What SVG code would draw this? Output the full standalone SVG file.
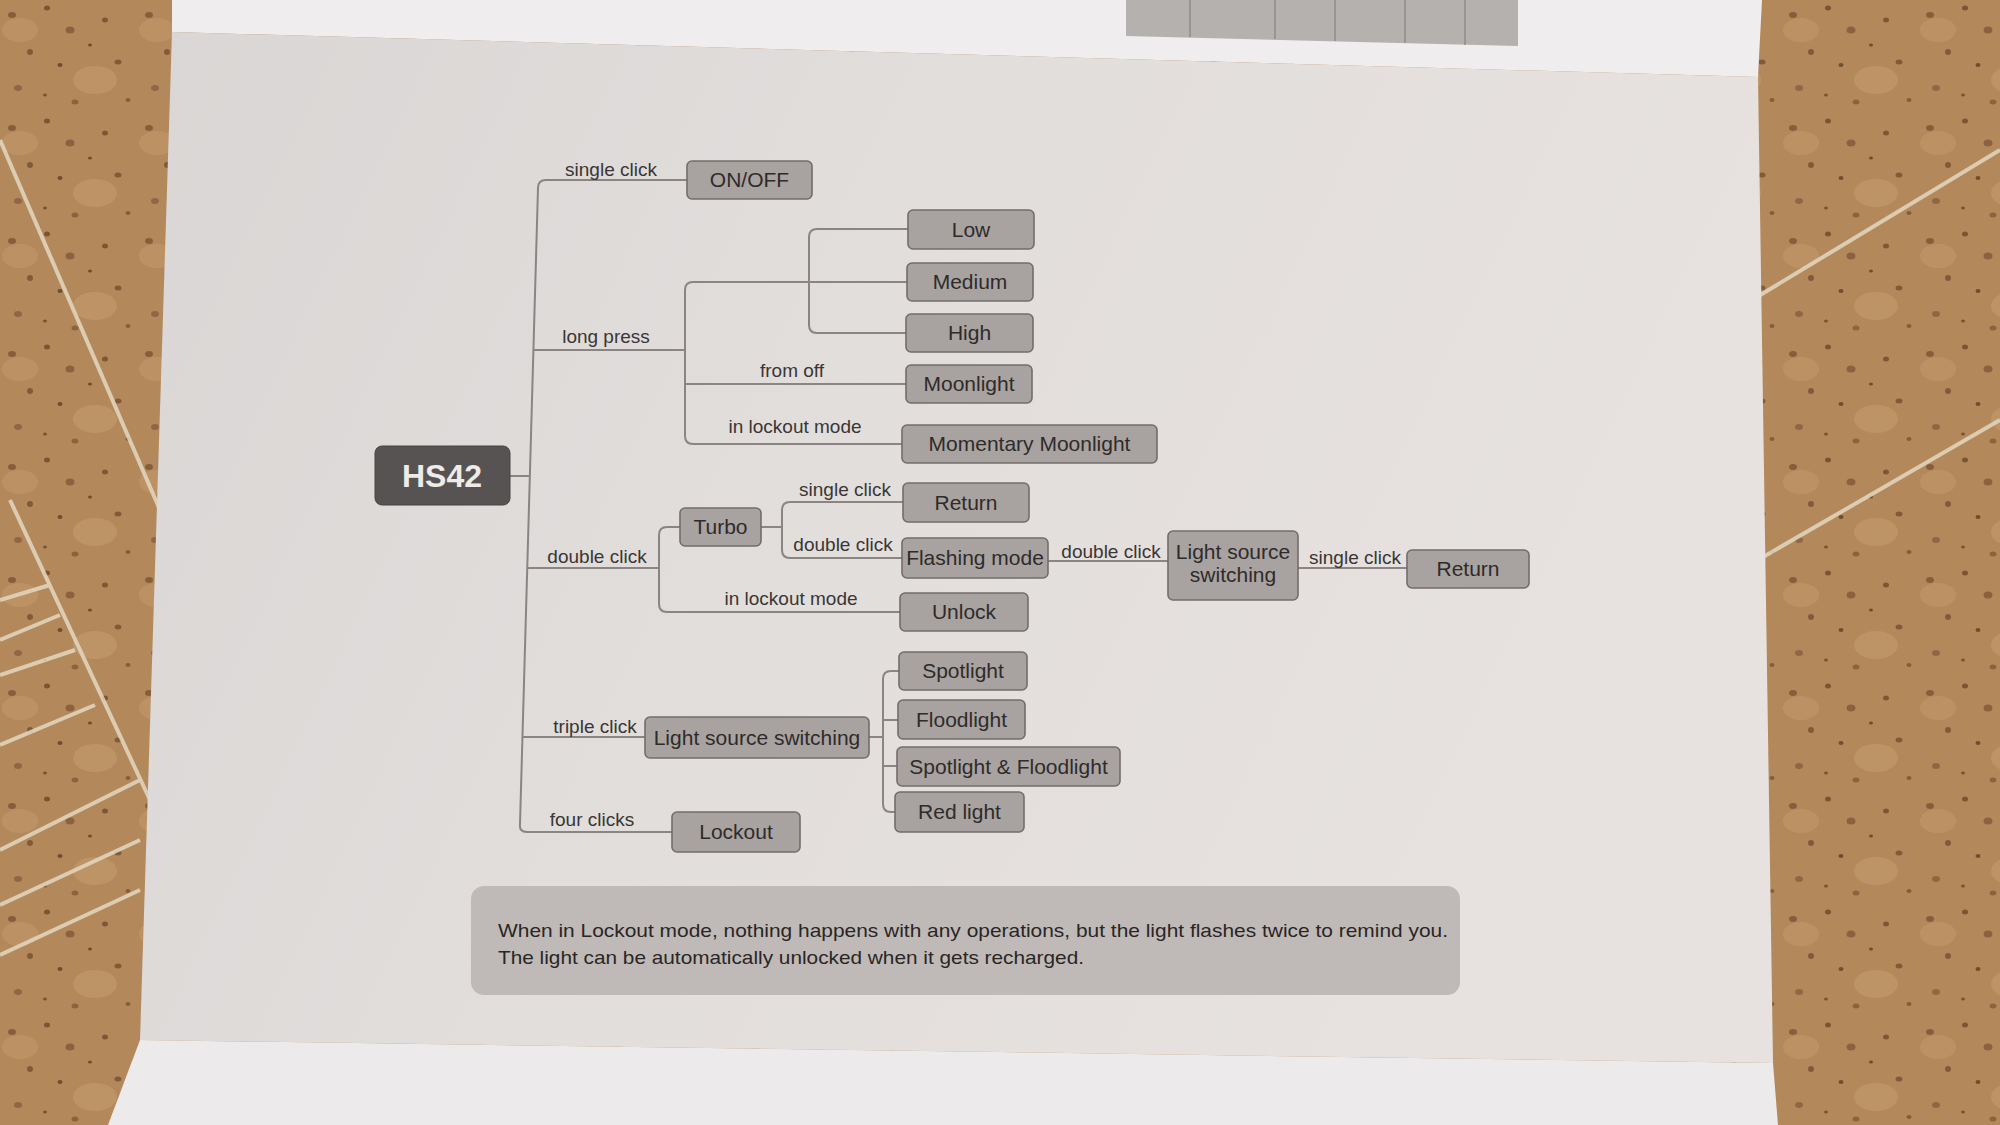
<svg xmlns="http://www.w3.org/2000/svg" width="2000" height="1125" viewBox="0 0 2000 1125">
<defs>
<pattern id="spots" width="137" height="113" patternUnits="userSpaceOnUse">
<rect width="137" height="113" fill="#b3885b"/>
<ellipse cx="20" cy="30" rx="18" ry="12" fill="#c29a6c" opacity="0.6"/>
<ellipse cx="95" cy="80" rx="22" ry="14" fill="#c6a070" opacity="0.5"/>
<ellipse cx="12" cy="15" rx="4" ry="3" fill="#7a5433" opacity="0.8"/>
<ellipse cx="47" cy="8" rx="3" ry="2.5" fill="#6b4729" opacity="0.8"/>
<ellipse cx="70" cy="30" rx="4.5" ry="3.5" fill="#80593a" opacity="0.8"/>
<ellipse cx="30" cy="52" rx="3" ry="3" fill="#6b4729" opacity="0.7"/>
<ellipse cx="118" cy="62" rx="3.5" ry="2.5" fill="#74502f" opacity="0.8"/>
<ellipse cx="18" cy="88" rx="4" ry="3" fill="#80593a" opacity="0.7"/>
<ellipse cx="60" cy="65" rx="2.5" ry="2" fill="#5e3e24" opacity="0.8"/>
<ellipse cx="105" cy="20" rx="3" ry="2.5" fill="#6f4b2c" opacity="0.8"/>
<ellipse cx="128" cy="100" rx="2.5" ry="2" fill="#6f4b2c" opacity="0.7"/>
<ellipse cx="75" cy="102" rx="3.5" ry="2.5" fill="#7a5433" opacity="0.7"/>
<ellipse cx="90" cy="45" rx="2" ry="1.6" fill="#5e3e24" opacity="0.8"/>
<ellipse cx="45" cy="95" rx="2" ry="1.6" fill="#5e3e24" opacity="0.7"/>
</pattern>
<linearGradient id="page" x1="0" y1="0" x2="1" y2="0.3">
<stop offset="0" stop-color="#d9d6d5"/>
<stop offset="0.5" stop-color="#e2dedc"/>
<stop offset="1" stop-color="#e7e2df"/>
</linearGradient>
<style>
.node rect{fill:#a8a3a0;stroke:#726d6b;stroke-width:1.6}
.node text{font-family:"Liberation Sans",Arial,sans-serif;font-size:21px;fill:#2f2b2a;text-anchor:middle}
.conn{fill:none;stroke:#8a8582;stroke-width:2}
.elabel{font-family:"Liberation Sans",Arial,sans-serif;font-size:19px;fill:#3a3634;text-anchor:middle}
</style>
</defs>

<!-- background scene -->
<rect width="2000" height="1125" fill="url(#spots)"/>
<g stroke="#e3d8c2" stroke-width="4" fill="none" opacity="0.85">
<path d="M0 140 L160 510"/>
<path d="M10 500 L150 800"/>
<path d="M0 600 L50 585"/>
<path d="M0 640 L60 615"/>
<path d="M0 675 L75 650"/>
<path d="M0 745 L95 705"/>
<path d="M0 850 L140 780"/>
<path d="M0 905 L140 840"/>
<path d="M0 955 L140 890"/>
<path d="M1752 300 L2000 150"/>
<path d="M1758 560 L2000 420"/>
</g>
<polygon points="172,0 1762,0 1758,77 172,32" fill="#efeded"/>
<polygon points="1126,0 1518,0 1518,46 1126,36" fill="#b4b1af"/>
<g stroke="#8f8c8a" stroke-width="1.5">
<line x1="1190" y1="0" x2="1190" y2="37"/>
<line x1="1275" y1="0" x2="1275" y2="39"/>
<line x1="1335" y1="0" x2="1335" y2="41"/>
<line x1="1405" y1="0" x2="1405" y2="43"/>
<line x1="1465" y1="0" x2="1465" y2="45"/>
</g>
<polygon points="172,32 1758,77 1773,1063 140,1040" fill="url(#page)"/>
<polygon points="140,1040 1773,1063 1778,1125 108,1125" fill="#eceaea"/>

<!-- connectors -->
<g id="connectors">
<path class="conn" d="M687 180 L546 180 Q538 180 538 188 L520 824 Q519 832 527 832 L672 832"/>
<path class="conn" d="M510 476 L530 476"/>
<path class="conn" d="M534 350 L685 350"/>
<path class="conn" d="M907 282 L693 282 Q685 282 685 290 L685 436 Q685 444 693 444 L902 444"/>
<path class="conn" d="M685 384 L906 384"/>
<path class="conn" d="M908 229 L817 229 Q809 229 809 237 L809 325 Q809 333 817 333 L906 333"/>
<path class="conn" d="M528 568 L659 568"/>
<path class="conn" d="M680 527 L667 527 Q659 527 659 535 L659 604 Q659 612 667 612 L900 612"/>
<path class="conn" d="M761 527 L782 527"/>
<path class="conn" d="M903 502 L790 502 Q782 502 782 510 L782 550 Q782 558 790 558 L902 558"/>
<path class="conn" d="M1048 561 L1168 561"/>
<path class="conn" d="M1298 568 L1407 568"/>
<path class="conn" d="M523 737 L645 737"/>
<path class="conn" d="M869 737 L883 737"/>
<path class="conn" d="M899 671 L891 671 Q883 671 883 679 L883 804 Q883 812 891 812 L895 812"/>
<path class="conn" d="M883 720 L898 720"/>
<path class="conn" d="M883 766 L897 766"/>
</g>

<g id="edge-labels">
<text class="elabel" x="611" y="176">single click</text>
<text class="elabel" x="606" y="343">long press</text>
<text class="elabel" x="792" y="377">from off</text>
<text class="elabel" x="795" y="433">in lockout mode</text>
<text class="elabel" x="845" y="496">single click</text>
<text class="elabel" x="843" y="551">double click</text>
<text class="elabel" x="597" y="563">double click</text>
<text class="elabel" x="791" y="605">in lockout mode</text>
<text class="elabel" x="1111" y="558">double click</text>
<text class="elabel" x="1355" y="564">single click</text>
<text class="elabel" x="595" y="733">triple click</text>
<text class="elabel" x="592" y="826">four clicks</text>
</g>

<!-- nodes -->
<g id="hs42">
<rect x="375" y="446" width="135" height="59" rx="7" fill="#575352" stroke="#444" stroke-width="1"/>
<text x="442" y="487" font-family="Liberation Sans, Arial, sans-serif" font-size="32" font-weight="bold" fill="#efebe9" text-anchor="middle">HS42</text>
</g>
<g id="onoff" class="node"><rect x="687" y="161" width="125" height="38" rx="5"/><text x="749.5" y="187">ON/OFF</text></g>
<g id="low" class="node"><rect x="908" y="210" width="126" height="39" rx="5"/><text x="971" y="237">Low</text></g>
<g id="medium" class="node"><rect x="907" y="263" width="126" height="38" rx="5"/><text x="970" y="289">Medium</text></g>
<g id="high" class="node"><rect x="906" y="314" width="127" height="38" rx="5"/><text x="969.5" y="340">High</text></g>
<g id="moonlight" class="node"><rect x="906" y="365" width="126" height="38" rx="5"/><text x="969" y="391">Moonlight</text></g>
<g id="momentary" class="node"><rect x="902" y="425" width="255" height="38" rx="5"/><text x="1029.5" y="451">Momentary Moonlight</text></g>
<g id="return1" class="node"><rect x="903" y="483" width="126" height="39" rx="5"/><text x="966" y="510">Return</text></g>
<g id="turbo" class="node"><rect x="680" y="508" width="81" height="38" rx="5"/><text x="720.5" y="534">Turbo</text></g>
<g id="flashing" class="node"><rect x="902" y="538" width="146" height="40" rx="5"/><text x="975" y="565">Flashing mode</text></g>
<g id="lss2" class="node"><rect x="1168" y="531" width="130" height="69" rx="5"/><text x="1233" y="559">Light source</text><text x="1233" y="582">switching</text></g>
<g id="return2" class="node"><rect x="1407" y="550" width="122" height="38" rx="5"/><text x="1468" y="576">Return</text></g>
<g id="unlock" class="node"><rect x="900" y="593" width="128" height="38" rx="5"/><text x="964" y="619">Unlock</text></g>
<g id="spotlight" class="node"><rect x="899" y="652" width="128" height="38" rx="5"/><text x="963" y="678">Spotlight</text></g>
<g id="floodlight" class="node"><rect x="898" y="700" width="127" height="39" rx="5"/><text x="961.5" y="727">Floodlight</text></g>
<g id="spotflood" class="node"><rect x="897" y="747" width="223" height="39" rx="5"/><text x="1008.5" y="774">Spotlight &amp; Floodlight</text></g>
<g id="redlight" class="node"><rect x="895" y="792" width="129" height="40" rx="5"/><text x="959.5" y="819">Red light</text></g>
<g id="lss" class="node"><rect x="645" y="717" width="224" height="41" rx="5"/><text x="757" y="745">Light source switching</text></g>
<g id="lockout" class="node"><rect x="672" y="812" width="128" height="40" rx="5"/><text x="736" y="839">Lockout</text></g>

<g id="note">
<rect x="471" y="886" width="989" height="109" rx="13" fill="#bfbab7"/>
<text x="498" y="937" font-family="Liberation Sans, Arial, sans-serif" font-size="19" fill="#2a2625" textLength="950" lengthAdjust="spacingAndGlyphs">When in Lockout mode, nothing happens with any operations, but the light flashes twice to remind you.</text>
<text x="498" y="964" font-family="Liberation Sans, Arial, sans-serif" font-size="19" fill="#2a2625" textLength="586" lengthAdjust="spacingAndGlyphs">The light can be automatically unlocked when it gets recharged.</text>
</g>
</svg>
